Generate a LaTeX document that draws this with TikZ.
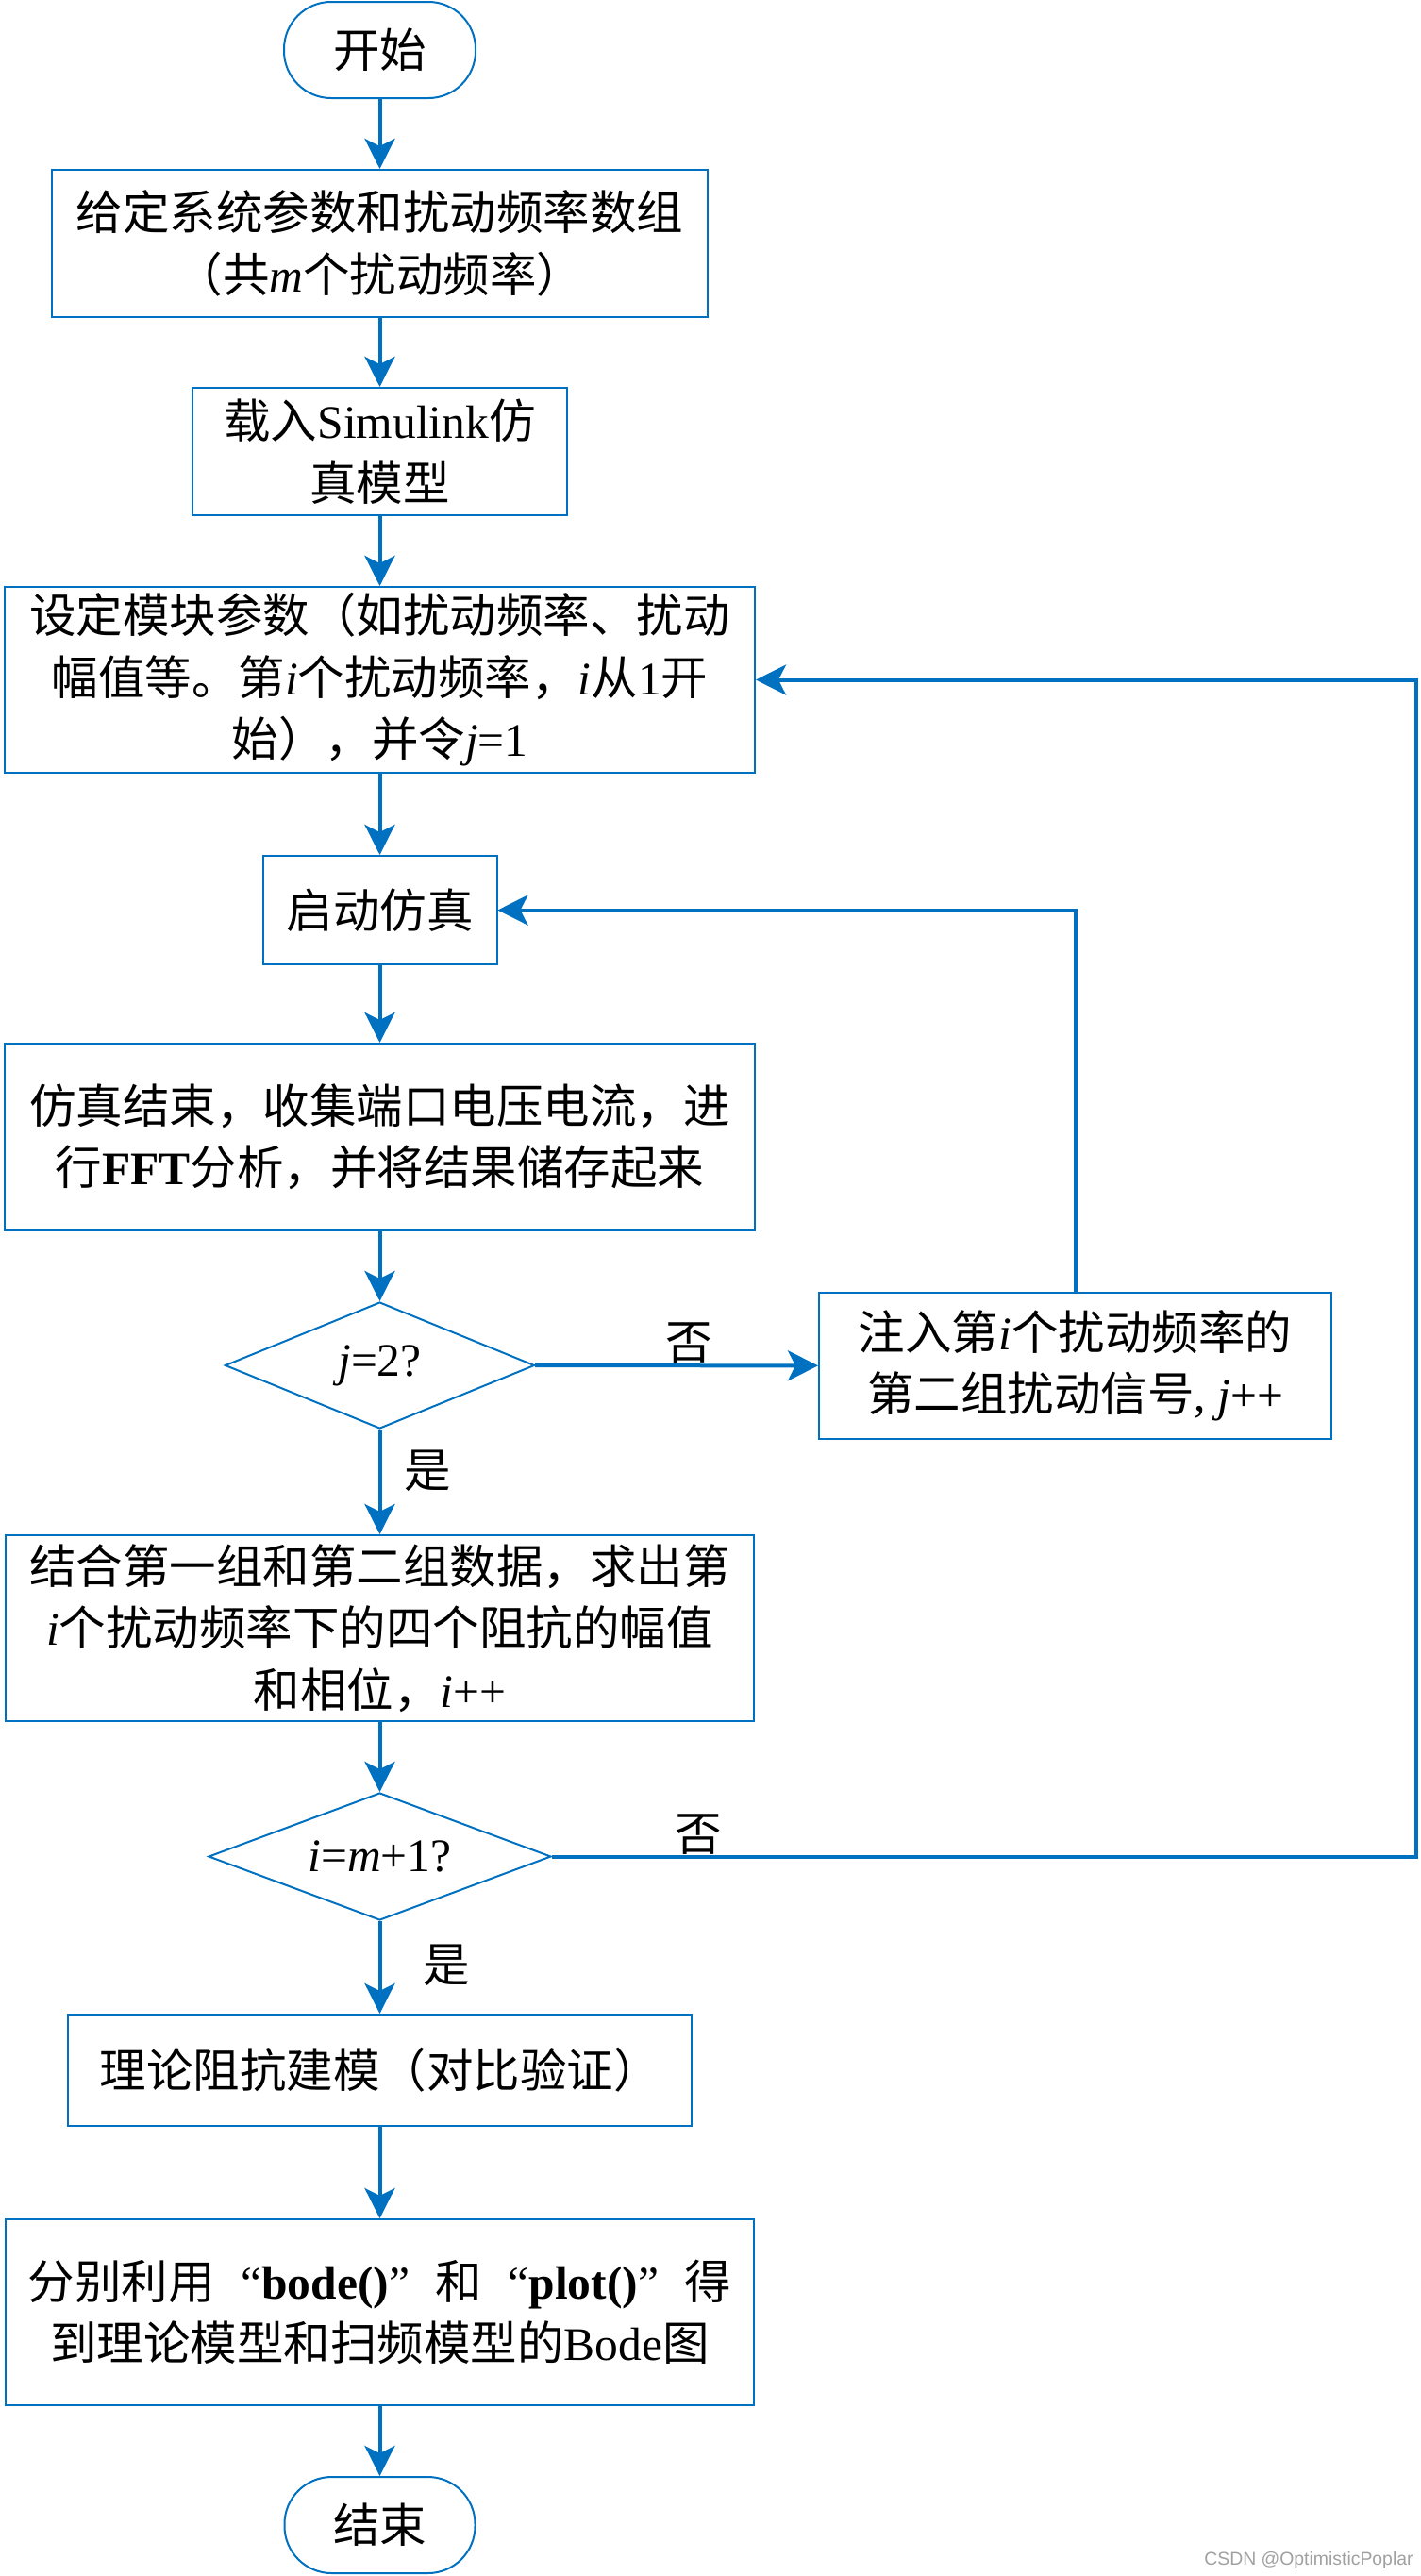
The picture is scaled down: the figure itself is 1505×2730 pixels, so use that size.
\documentclass[tikz,border=0pt]{standalone}
\usepackage{fontspec}
\setmainfont{Noto Sans CJK SC}
\newfontfamily\latf{Liberation Serif}
\newfontfamily\wmf{Liberation Sans}
\usetikzlibrary{arrows.meta,shapes.geometric}
\definecolor{fb}{HTML}{0070C0}
\definecolor{wmgray}{HTML}{A0A0A0}
\newcommand{\LT}[1]{{\latf #1}}
\newcommand{\IV}[1]{{\latf\itshape #1}}
\newcommand{\BD}[1]{{\latf\bfseries #1}}
\newcommand{\LQ}{\makebox[1em][r]{\latf “}}
\newcommand{\RQ}{\makebox[1em][l]{\latf ”}}
\newcommand{\fs}{\fontsize{24.75pt}{32.75pt}\selectfont}
\tikzset{
  box/.style={draw=fb, line width=1pt, align=center, inner sep=0pt, font=\fs},
  term/.style={box, rounded corners=25pt},
  dec/.style={draw=fb, line width=1pt, diamond, aspect=2.5, inner sep=0pt, align=center, font=\fs},
  conn/.style={draw=fb, line width=2pt, -{Stealth[length=16pt,width=16pt,inset=4pt]}},
  lab/.style={inner sep=0pt, font=\fs}
}
\begin{document}
\begin{tikzpicture}[x=0.5pt,y=-0.5pt]
\useasboundingbox (0,0) rectangle (1505,2730);
\node[term, minimum width=101.5pt, minimum height=51pt] (st) at (402.5,53) {开始};
\node[box, minimum width=347.5pt, minimum height=78pt] (b1) at (402.5,258) {给定系统参数和扰动频率数组\\（共\IV{m}个扰动频率）};
\node[box, minimum width=198.5pt, minimum height=67.5pt] (b2) at (402.5,478.5) {载入\LT{Simulink}仿\\真模型};
\node[box, minimum width=397.5pt, minimum height=98.5pt] (b3) at (402.5,720.5) {设定模块参数（如扰动频率、扰动\\幅值等。第\IV{i}个扰动频率，\IV{i}从\LT{1}开\\始），并令\IV{j}\LT{=1}};
\node[box, minimum width=124pt, minimum height=57.5pt] (b4) at (402.5,964.5) {启动仿真};
\node[box, minimum width=397.5pt, minimum height=99pt] (b5) at (402.5,1205) {仿真结束，收集端口电压电流，进\\行\BD{FFT}分析，并将结果储存起来};
\node[dec, minimum width=164pt, minimum height=67pt] (d1) at (402.5,1447) {\IV{j}\LT{=2?}};
\node[box, minimum width=271.5pt, minimum height=77.5pt] (b6) at (1139.5,1447.5) {注入第\IV{i}个扰动频率的\\第二组扰动信号\LT{, }\IV{j}\LT{++}};
\node[box, minimum width=396.5pt, minimum height=98.5pt] (b7) at (402.5,1725.5) {结合第一组和第二组数据，求出第\\\IV{i}个扰动频率下的四个阻抗的幅值\\和相位，\IV{i}\LT{++}};
\node[dec, minimum width=181.5pt, minimum height=67.5pt] (d2) at (402.5,1967.5) {\IV{i}\LT{=}\IV{m}\LT{+1?}};
\node[box, minimum width=330.5pt, minimum height=59pt] (b8) at (402.5,2194) {理论阻抗建模（对比验证）};
\node[box, minimum width=396.5pt, minimum height=98.5pt] (b9) at (402.5,2450.5) {分别利用\LQ\BD{bode()}\RQ 和\LQ\BD{plot()}\RQ 得\\到理论模型和扫频模型的\LT{Bode}图};
\node[term, minimum width=101pt, minimum height=51pt] (en) at (402.5,2676) {结束};

\coordinate (rx) at (1501,1967.5);

\draw[conn] (st) -- (b1);
\draw[conn] (b1) -- (b2);
\draw[conn] (b2) -- (b3);
\draw[conn] (b3) -- (b4);
\draw[conn] (b4) -- (b5);
\draw[conn] (b5) -- (d1);
\draw[conn] (d1) -- (b6);
\draw[conn] (b6.north) |- (b4.east);
\draw[conn] (d1) -- (b7);
\draw[conn] (b7) -- (d2);
\draw[conn] (d2.east) -- (rx) |- (b3.east);
\draw[conn] (d2) -- (b8);
\draw[conn] (b8) -- (b9);
\draw[conn] (b9) -- (en);

\node[lab] (no1) at (730,1423) {否};
\node[lab] (no2) at (740,1944) {否};
\node[lab] (yes1) at (453,1559) {是};
\node[lab] (yes2) at (473,2083) {是};

\node[anchor=base east, inner sep=0pt, font=\wmf\fontsize{9.7pt}{11pt}\selectfont, text=wmgray] (wm) at (1498,2718) {CSDN @OptimisticPoplar};
\end{tikzpicture}
\end{document}
